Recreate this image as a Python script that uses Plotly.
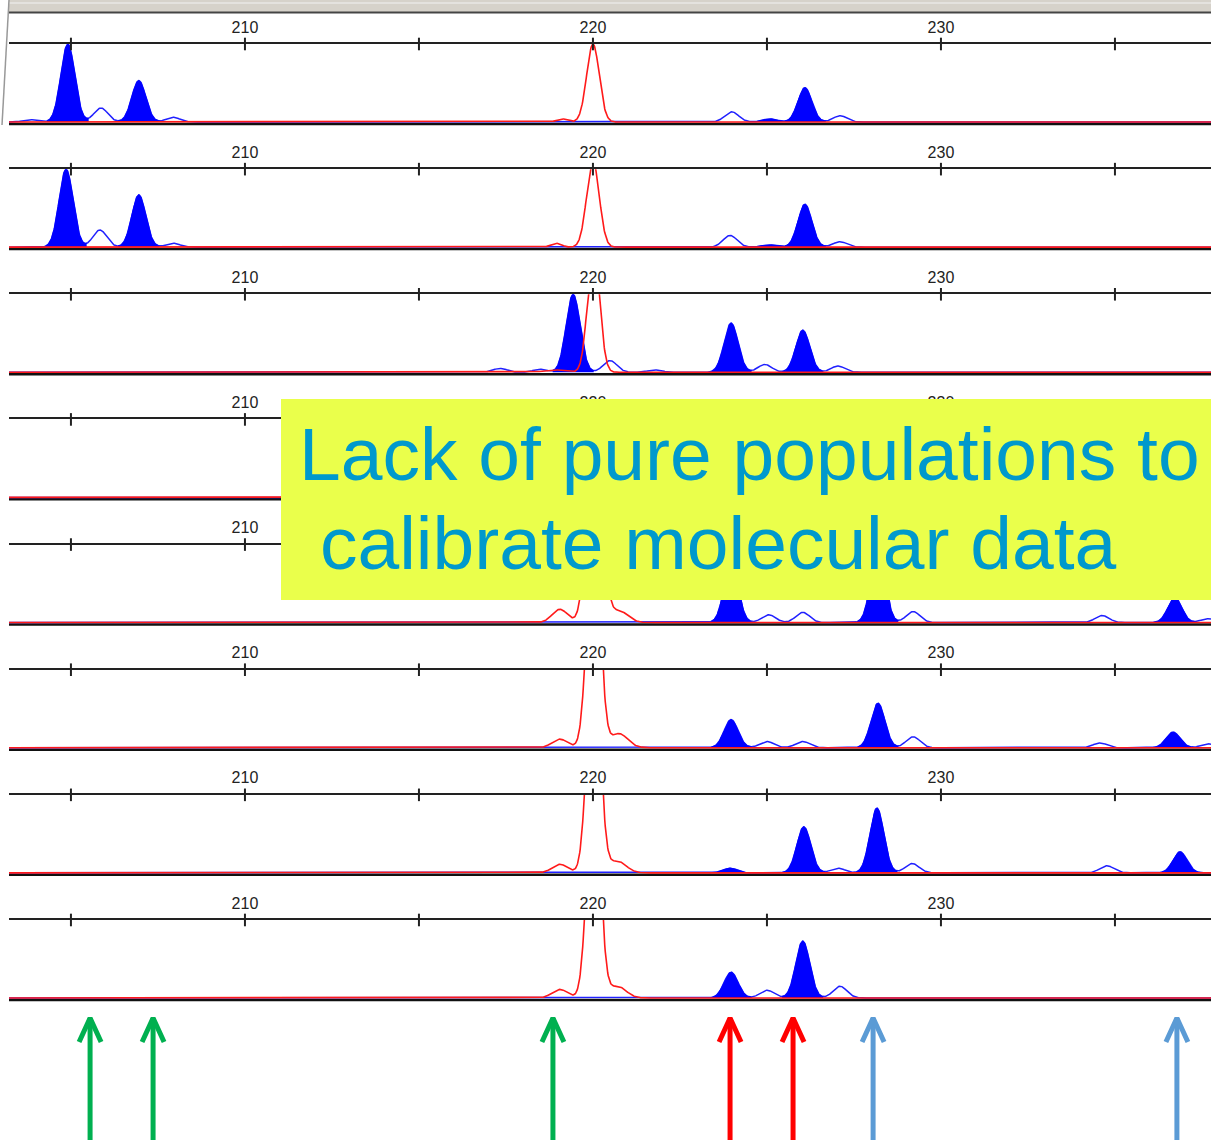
import numpy as np
import plotly.graph_objects as go

# fragment size axis (bp)
X_MIN, X_MAX = 203.22, 237.76
TICKS = [205, 210, 215, 220, 225, 230, 235]
TICK_LABELS = [210, 220, 230]

# peaks for each of the 8 lanes: (size bp, height relative to lane top)
BLUE_FILLED = [
    [(204.91, 1.00), (206.95, 0.53), (225.09, 0.04), (226.09, 0.44)],
    [(204.86, 1.00), (206.95, 0.67), (225.05, 0.03), (226.09, 0.55)],
    [(219.43, 1.00), (223.97, 0.63), (226.03, 0.54)],
    [],
    [(223.97, 0.75), (228.19, 0.95), (236.72, 0.32)],
    [(223.97, 0.36), (228.19, 0.57), (236.67, 0.20)],
    [(223.94, 0.06), (226.06, 0.59), (228.16, 0.83), (236.87, 0.27)],
    [(223.97, 0.33), (226.03, 0.73)],
]
BLUE_OPEN = [
    [(203.82, 0.03), (205.86, 0.18), (207.93, 0.06), (223.99, 0.13), (227.10, 0.08)],
    [(205.83, 0.22), (207.93, 0.05), (223.94, 0.15), (227.10, 0.07)],
    [(217.33, 0.05), (218.48, 0.04), (220.49, 0.15), (221.78, 0.03),
     (224.94, 0.10), (227.04, 0.08)],
    [],
    [(225.05, 0.10), (226.03, 0.13), (229.20, 0.14), (234.63, 0.09), (237.67, 0.05)],
    [(225.00, 0.08), (226.03, 0.08), (229.20, 0.14), (234.57, 0.06), (237.67, 0.05)],
    [(227.04, 0.06), (229.17, 0.12), (234.77, 0.09)],
    [(225.00, 0.10), (227.10, 0.15)],
]
# red size standard: (size bp, height, width bp)
RED = [
    [(219.11, 0.04, 0.15), (220.00, 1.00, 0.18)],
    [(218.94, 0.05, 0.15), (220.00, 1.10, 0.18)],
    [(218.90, 0.03, 0.30), (220.02, 1.60, 0.17)],
    [(219.05, 0.11, 0.22), (220.00, 3.00, 0.17), (220.70, 0.15, 0.25)],
    [(219.05, 0.17, 0.22), (220.05, 3.00, 0.20), (220.75, 0.15, 0.25)],
    [(219.05, 0.11, 0.22), (220.02, 3.00, 0.18), (220.75, 0.18, 0.25)],
    [(219.05, 0.11, 0.22), (220.02, 3.00, 0.18), (220.70, 0.15, 0.25)],
    [(219.05, 0.11, 0.22), (220.02, 3.00, 0.18), (220.70, 0.15, 0.25)],
]

ARROWS = {
    "#00B050": [205.55, 207.36, 218.85],
    "#FF0000": [223.94, 225.75],
    "#5B9BD5": [228.05, 236.78],
}

TITLE_LINES = ["Lack of pure populations to", "calibrate molecular data"]

W, H = 1211, 1140
SIGMA = 0.2
xs = np.linspace(X_MIN, X_MAX, 2400)


def trace_of(peaks):
    y = np.zeros_like(xs)
    for p in peaks:
        pos, h = p[0], p[1]
        s = p[2] if len(p) > 2 else SIGMA
        y += h * np.exp(-0.5 * ((xs - pos) / s) ** 2)
    return y


fig = go.Figure()
layout = dict()
x_dom = [9 / W, 1]

for i in range(8):
    n = i + 1
    xa, ya = f"x{n}", f"y{n}"
    top = 44 + 125.14 * i
    bot = top + 82
    layout[f"xaxis{n}"] = dict(
        domain=x_dom, range=[X_MIN, X_MAX], anchor=ya, side="top",
        showline=True, linecolor="#222", linewidth=2,
        tickvals=TICK_LABELS, ticks="outside", ticklen=3,
        tickcolor="rgba(0,0,0,0)", showgrid=False, zeroline=False,
        tickfont=dict(family="Liberation Sans", size=16, color="#222"),
    )
    layout[f"yaxis{n}"] = dict(
        domain=[1 - bot / H, 1 - top / H], range=[-4 / 78, 1.0],
        visible=False, anchor=xa,
    )

    blue = trace_of(BLUE_FILLED[i] + BLUE_OPEN[i])
    red = trace_of(RED[i])

    # black base trace
    fig.add_trace(go.Scatter(x=[X_MIN, X_MAX], y=[-0.025, -0.025], mode="lines",
                             line=dict(color="#111", width=2.5),
                             xaxis=xa, yaxis=ya, hoverinfo="skip"))
    fig.add_trace(go.Scatter(x=xs, y=blue, mode="lines",
                             line=dict(color="#2020FF", width=1.5),
                             xaxis=xa, yaxis=ya, hoverinfo="skip"))
    for pos, h in BLUE_FILLED[i]:
        m = (xs > pos - 3 * SIGMA) & (xs < pos + 3 * SIGMA)
        fig.add_trace(go.Scatter(x=xs[m], y=blue[m], mode="lines", fill="tozeroy",
                                 fillcolor="#0000FF", line=dict(color="#0000FF", width=1),
                                 xaxis=xa, yaxis=ya, hoverinfo="skip"))
    fig.add_trace(go.Scatter(x=xs, y=red, mode="lines",
                             line=dict(color="#FF1a1a", width=1.6),
                             xaxis=xa, yaxis=ya, hoverinfo="skip"))
    # tick marks crossing the lane axis line
    fig.add_trace(go.Scatter(x=TICKS, y=[1.0] * len(TICKS), mode="markers",
                             marker=dict(symbol="line-ns", size=9,
                                         line=dict(color="#222", width=2)),
                             cliponaxis=False, xaxis=xa, yaxis=ya, hoverinfo="skip"))

# arrow strip under the lanes
layout["xaxis9"] = dict(domain=x_dom, range=[X_MIN, X_MAX], anchor="y9", visible=False)
layout["yaxis9"] = dict(domain=[0, 135 / H], range=[0, 135], anchor="x9", visible=False)
head_dx = 11 / 34.8
for color, xs_arrow in ARROWS.items():
    ax, ay = [], []
    for x in xs_arrow:
        ax += [x, x, None, x - head_dx, x, x + head_dx, None]
        ay += [-5, 122, None, 98, 122, 98, None]
    fig.add_trace(go.Scatter(x=ax, y=ay, mode="lines",
                             line=dict(color=color, width=5),
                             xaxis="x9", yaxis="y9", hoverinfo="skip"))

shapes = [
    # window frame at the top
    dict(type="rect", xref="paper", yref="paper", x0=9 / W, x1=1,
         y0=1 - 12 / H, y1=1, fillcolor="#D6D2CA", line=dict(width=0), layer="below"),
    dict(type="line", xref="paper", yref="paper", x0=9 / W, x1=1,
         y0=1 - 3 / H, y1=1 - 3 / H, line=dict(color="#F2F2F2", width=1)),
    dict(type="line", xref="paper", yref="paper", x0=9 / W, x1=1,
         y0=1 - 12.5 / H, y1=1 - 12.5 / H, line=dict(color="#444", width=2)),
    dict(type="line", xref="paper", yref="paper", x0=9 / W, x1=2 / W,
         y0=1, y1=1 - 125 / H, line=dict(color="#999", width=1.5)),
    # yellow callout
    dict(type="rect", xref="paper", yref="paper", x0=281 / W, x1=1,
         y0=1 - 600 / H, y1=1 - 399 / H, fillcolor="#EAFF4B",
         line=dict(width=0), layer="above"),
]

annotations = [
    dict(xref="paper", yref="paper", x=297 / W, y=1 - 454 / H, xanchor="left",
         yanchor="middle", text=TITLE_LINES[0], showarrow=False,
         font=dict(family="Liberation Sans", size=75, color="#0099CC")),
    dict(xref="paper", yref="paper", x=318 / W, y=1 - 543 / H, xanchor="left",
         yanchor="middle", text=TITLE_LINES[1], showarrow=False,
         font=dict(family="Liberation Sans", size=75, color="#0099CC")),
]

fig.update_layout(
    **layout,
    shapes=shapes,
    annotations=annotations,
    width=W, height=H,
    margin=dict(l=0, r=0, t=0, b=0),
    paper_bgcolor="white", plot_bgcolor="white",
    showlegend=False,
)

fig.write_html("out.html", config={"displayModeBar": False},
               post_script="document.body.style.margin='0';document.body.style.overflow='hidden';")
